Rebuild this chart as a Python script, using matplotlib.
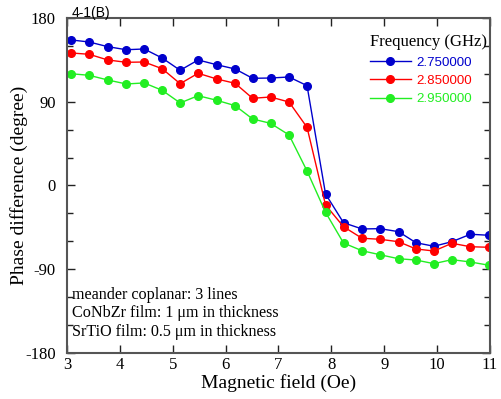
import matplotlib
matplotlib.use('Agg')
import matplotlib.pyplot as plt
from matplotlib.ticker import MultipleLocator

field = [3.08, 3.42, 3.77, 4.12, 4.46, 4.80, 5.14, 5.48, 5.83, 6.18, 6.51, 6.85,
         7.20, 7.54, 7.89, 8.23, 8.58, 8.92, 9.27, 9.60, 9.94, 10.28, 10.63, 10.98]
phase_275 = [156.4, 154.2, 149.2, 145.9, 146.7, 137.0, 123.8, 134.9, 129.8, 125.2, 115.2, 115.5,
             116.6, 107.3, -9.1, -40.0, -46.7, -46.4, -49.6, -61.5, -65.3, -60.4, -52.4, -53.5]
phase_285 = [142.4, 141.0, 134.9, 132.4, 132.7, 125.5, 109.4, 120.6, 114.5, 109.8, 93.7, 95.1,
             89.7, 62.5, -20.9, -44.3, -56.7, -57.8, -60.4, -68.2, -70.4, -62.1, -65.8, -66.4]
phase_295 = [120.1, 118.4, 113.4, 109.1, 110.2, 102.3, 88.7, 96.5, 91.6, 85.8, 71.5, 66.8,
             54.3, 15.6, -28.8, -61.8, -70.1, -74.4, -78.7, -80.1, -84.0, -79.7, -82.2, -85.7]
labels = ['2.750000', '2.850000', '2.950000']
colors = ['#0000cc', '#ff0000', '#22ee22']
yticks = [-180, -90, 0, 90, 180]

plt.rcParams['axes.unicode_minus'] = False
serif = 'Liberation Serif'
fig = plt.figure(figsize=(5.01, 3.99), dpi=100)
ax = fig.add_axes([0.1337, 0.1153, 0.978 - 0.1337, 0.9549 - 0.1153])

for ys, lab, c in zip([phase_275, phase_285, phase_295], labels, colors):
    ax.plot(field, ys, color=c, lw=1, marker='o', ms=5.5, label=lab)

ax.set_xlim(3, 11)
ax.set_ylim(-180, 180)
ax.set_yticks(yticks)
ax.yaxis.set_minor_locator(MultipleLocator(30))
ax.xaxis.set_major_locator(MultipleLocator(1))
ax.tick_params(which='both', direction='in', top=True, right=True, width=1, colors='#222222')
ax.tick_params(which='major', length=6)
ax.tick_params(which='minor', length=4)
ax.tick_params(axis='x', pad=3)
ax.tick_params(axis='y', pad=8)
for s in ax.spines.values():
    s.set_linewidth(1.5)
    s.set_color('#555555')
for t in ax.get_xticklabels() + ax.get_yticklabels():
    t.set_fontfamily(serif)
    t.set_fontsize(12)
    t.set_color('black')

ax.set_xlabel('Magnetic field (Oe)', fontfamily=serif, fontsize=14)
ax.set_ylabel('Phase difference (degree)', fontfamily=serif, fontsize=14)
ax.xaxis.set_label_coords(0.5, -0.064)
ax.yaxis.set_label_coords(-0.093, 0.5)

leg = ax.legend(loc='upper right', bbox_to_anchor=(0.995, 0.955), frameon=False,
                title='Frequency (GHz)', handlelength=3.1, handletextpad=0.45,
                labelspacing=0.45, borderaxespad=0, borderpad=0.1,
                prop={'family': 'Liberation Sans', 'size': 9.6})
leg.get_title().set_fontfamily(serif)
leg.get_title().set_fontsize(12)
leg._legend_box.align = 'left'
for t, c in zip(leg.get_texts(), colors):
    t.set_color(c)

ax.text(0.012, 0.04, 'meander coplanar: 3 lines\nCoNbZr film: 1 \u03bcm in thickness\nSrTiO film: 0.5 \u03bcm in thickness',
        transform=ax.transAxes, fontfamily=serif, fontsize=11.6, linespacing=1.2, va='bottom', ha='left')
fig.text(72 / 501, 1 - 13 / 399, '4-1(B)', fontfamily='Liberation Sans', fontsize=10, va='center', ha='left')

fig.savefig('out.png', dpi=100)
